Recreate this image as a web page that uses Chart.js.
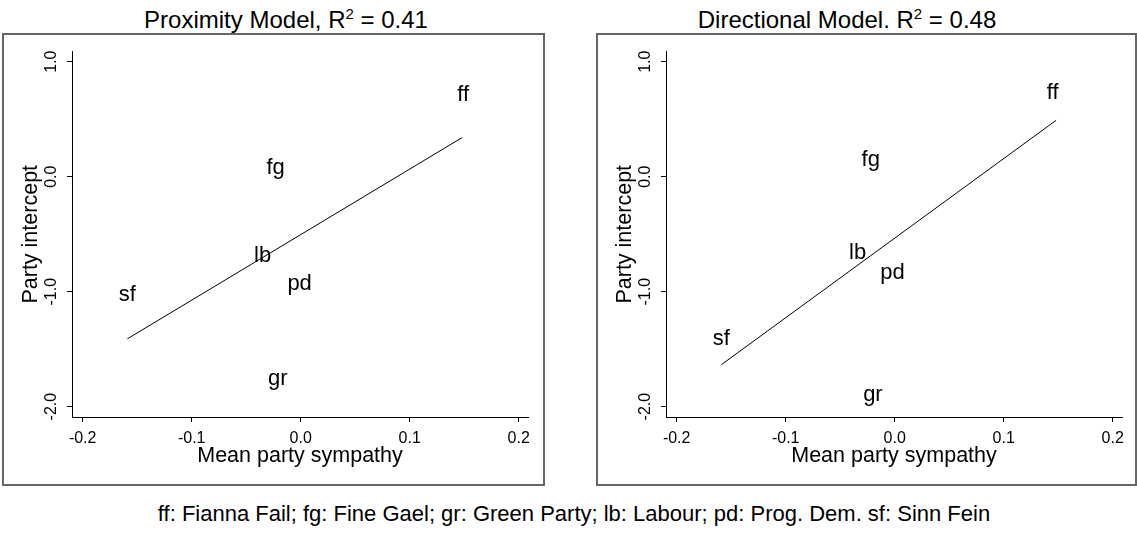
<!DOCTYPE html>
<html>
<head>
<meta charset="utf-8">
<script src="https://cdn.jsdelivr.net/npm/chart.js@4/dist/chart.umd.min.js"></script>
<style>
  html, body { margin: 0; padding: 0; background: #fff; width: 1137px; height: 536px; overflow: hidden; }
  body { position: relative; font-family: 'Liberation Sans', Arial, sans-serif; color: #000; }
  .box { position: absolute; top: 33px; width: 543px; height: 453px; box-sizing: border-box; border: 2px solid #666; }
  .wrap { position: absolute; top: 33px; width: 568px; height: 453px; }
  .title { position: absolute; top: 7px; width: 400px; text-align: center; font-size: 24px; line-height: 26px; white-space: nowrap; }
  .sup { font-size: 15px; position: relative; top: -9px; }
  #note { position: absolute; top: 502px; left: 74px; width: 1000px; text-align: center; font-size: 22px; line-height: 24px; white-space: nowrap; }
</style>
</head>
<body>
<div class="box" style="left:2px"></div>
<div class="box" style="left:596px; width:541px"></div>
<div class="title" style="left:86px">Proximity Model, R<span class="sup">2</span> = 0.41</div>
<div class="title" style="left:647px">Directional Model. R<span class="sup">2</span> = 0.48</div>
<div class="wrap" style="left:0px"><canvas id="proxChart" width="568" height="453"></canvas></div>
<div class="wrap" style="left:594px"><canvas id="dirChart" width="568" height="453"></canvas></div>
<div id="note">ff: Fianna Fail; fg: Fine Gael; gr: Green Party; lb: Labour; pd: Prog. Dem. sf: Sinn Fein</div>
<script>
// party codes and the two model fits
const parties = ['ff', 'fg', 'gr', 'lb', 'pd', 'sf'];

const proxX = [0.149, -0.023, -0.021, -0.035, -0.001, -0.159];
const proxY = [0.71, 0.08, -1.76, -0.69, -0.93, -1.03];
const proxLineX = [-0.159, 0.148];
const proxLineY = [-1.41, 0.34];

const dirX = [0.145, -0.022, -0.020, -0.034, -0.002, -0.159];
const dirY = [0.73, 0.15, -1.90, -0.66, -0.84, -1.41];
const dirLineX = [-0.159, 0.148];
const dirLineY = [-1.635, 0.49];

const xTicks = [-0.2, -0.1, 0, 0.1, 0.2];
const yTicks = [-2, -1, 0, 1];

Chart.defaults.font.family = "'Liberation Sans', Arial, sans-serif";
Chart.defaults.color = '#000';

// write the party code at each (hidden) point
const partyLabels = {
  id: 'partyLabels',
  afterDatasetsDraw(chart) {
    const meta = chart.getDatasetMeta(0);
    const ctx = chart.ctx;
    ctx.save();
    ctx.font = "22px 'Liberation Sans', Arial, sans-serif";
    ctx.fillStyle = '#000';
    ctx.textAlign = 'center';
    ctx.textBaseline = 'middle';
    meta.data.forEach((pt, i) => ctx.fillText(parties[i], pt.x, pt.y));
    ctx.restore();
  }
};

function makeChart(id, xs, ys, lx, ly) {
  new Chart(document.getElementById(id), {
    type: 'scatter',
    data: {
      datasets: [
        {
          data: xs.map((x, i) => ({ x: x, y: ys[i] })),
          pointRadius: 0,
          pointHoverRadius: 0
        },
        {
          data: lx.map((x, i) => ({ x: x, y: ly[i] })),
          showLine: true,
          borderColor: '#000',
          borderWidth: 1,
          pointRadius: 0,
          fill: false
        }
      ]
    },
    options: {
      responsive: false,
      animation: false,
      layout: { padding: { left: 0, right: 40, top: 18.5, bottom: 0 } },
      plugins: { legend: { display: false }, tooltip: { enabled: false } },
      scales: {
        x: {
          type: 'linear',
          position: 'bottom',
          min: -0.2098,
          max: 0.2085,
          afterBuildTicks: s => { s.ticks = xTicks.map(v => ({ value: v })); },
          afterFit: s => { s.height = 69; },
          ticks: { callback: v => v.toFixed(1), font: { size: 16 }, color: '#000', padding: 6.5 },
          grid: { drawOnChartArea: false, drawTicks: true, tickLength: 5, color: '#000' },
          border: { display: true, color: '#000', width: 1 },
          title: { display: true, text: 'Mean party sympathy', font: { size: 21.5 }, color: '#000', padding: { top: 0, bottom: 17 } }
        },
        y: {
          type: 'linear',
          position: 'left',
          min: -2.09,
          max: 1.089,
          afterBuildTicks: s => { s.ticks = yTicks.map(v => ({ value: v })); },
          afterFit: s => { s.width = 72; },
          ticks: { callback: v => v.toFixed(1), font: { size: 16 }, color: '#000', padding: 2, minRotation: 90, maxRotation: 90, crossAlign: 'center' },
          grid: { drawOnChartArea: false, drawTicks: true, tickLength: 5, color: '#000' },
          border: { display: true, color: '#000', width: 1 },
          title: { display: true, text: 'Party intercept', font: { size: 21.5 }, color: '#000', padding: { top: 18, bottom: 0 } }
        }
      }
    },
    plugins: [partyLabels]
  });
}

makeChart('proxChart', proxX, proxY, proxLineX, proxLineY);
makeChart('dirChart', dirX, dirY, dirLineX, dirLineY);
</script>
</body>
</html>
